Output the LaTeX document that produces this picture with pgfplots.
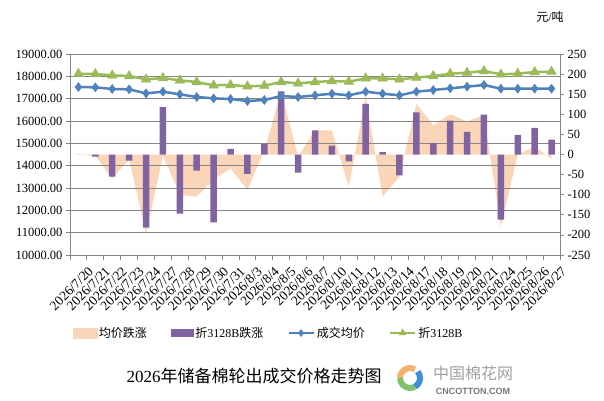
\documentclass[border=0pt]{standalone}
\usepackage{pgfplots}
\pgfplotsset{compat=1.18}
\usepackage{pgfplotstable}
\usepackage{fontspec}
\setmainfont{Liberation Serif}
\newfontfamily\cjk{Noto Sans CJK SC}
\newfontfamily\lsans{Liberation Sans}
\definecolor{cblue}{HTML}{4F81BD}
\definecolor{cgreen}{HTML}{9BBB59}
\definecolor{cpurple}{HTML}{8064A2}
\definecolor{corange}{HTML}{FBD5B8}
\definecolor{cgrid}{HTML}{868686}

\pgfplotstableread{
x blue green bar area
0 17520 18119 0 0
1 17507 18104 -5 -4
2 17433 18045 -55 -60
3 17418 18015 -15 -12
4 17239 17866 -182 -196
5 17313 17925 118 -3
6 17194 17821 -147 -100
7 17075 17746 -40 -105
8 17015 17597 -169 -62
9 16985 17612 14 -35
10 16896 17552 -48 -88
11 16940 17582 27 10
12 17119 17746 157 156
13 17075 17687 -45 -5
14 17149 17746 60 60
15 17224 17791 22 60
16 17149 17761 -17 -80
17 17313 17910 126 144
18 17224 17910 6 -105
19 17149 17866 -52 -55
20 17313 17940 105 126
21 17388 18015 28 73
22 17463 18119 84 100
23 17537 18164 56 82
24 17612 18239 99 98
25 17448 18090 -162 -180
26 17448 18119 49 0
27 17448 18194 66 20
28 17448 18209 37 -11
}\data

\pgfplotsset{
  base/.style={scale only axis, width=490pt, height=201pt,
    at={(70pt,145pt)}, anchor=south west, xmin=-0.5, xmax=28.5,
    /pgf/number format/assume math mode=true},
}

\begin{document}
\begin{tikzpicture}
\path[use as bounding box] (0pt,0pt) rectangle (604pt,400pt);

% area (right scale)
\begin{axis}[base, ymin=-250, ymax=250, hide axis]
\addplot[fill=corange, draw=none] table[x=x,y=area]{\data} \closedcycle;
\end{axis}

% left axis, grid, x labels
\begin{axis}[base, ymin=10000, ymax=19000,
  scaled y ticks=false,
  ytick={10000,11000,...,19000},
  ymajorgrids, grid style={cgrid, line width=0.8pt},
  axis x line*=bottom, axis y line*=left,
  axis line style={cgrid, line width=0.8pt, -},
  tick align=outside, major tick length=4pt, minor tick length=5pt,
  tick style={cgrid, line width=0.8pt},
  yticklabel style={font=\fontsize{12.5}{12.5}\selectfont, /pgf/number format/fixed, /pgf/number format/fixed zerofill, /pgf/number format/precision=2, /pgf/number format/1000 sep={}},
  xtick={0,...,28},
  major x tick style={draw=none},
  minor xtick={-0.5,0.5,...,28.5},
  xticklabels={2026/7/20,2026/7/21,2026/7/22,2026/7/23,2026/7/24,2026/7/27,2026/7/28,2026/7/29,2026/7/30,2026/7/31,2026/8/3,2026/8/4,2026/8/5,2026/8/6,2026/8/7,2026/8/10,2026/8/11,2026/8/12,2026/8/13,2026/8/14,2026/8/17,2026/8/18,2026/8/19,2026/8/20,2026/8/21,2026/8/24,2026/8/25,2026/8/26,2026/8/27},
  xticklabel style={font=\fontsize{13.5}{13.5}\selectfont, rotate=45, anchor=east, xshift=5pt, yshift=-16pt},
]
\addplot[draw=none] coordinates {(0,15000)};
\end{axis}

% bars, right axis
\begin{axis}[base, ymin=-250, ymax=250,
  ytick={-250,-200,...,250},
  axis y line*=right, axis x line=none,
  axis line style={cgrid, line width=0.8pt, -},
  tick align=outside, major tick length=4pt,
  tick style={cgrid, line width=0.8pt},
  yticklabel style={font=\fontsize{12.5}{12.5}\selectfont},
]
\addplot[ybar, bar width=6.5pt, fill=cpurple, draw=none] table[x=x,y=bar]{\data};
\end{axis}

% lines
\begin{axis}[base, ymin=10000, ymax=19000, hide axis,
  legend columns=4,
  legend style={at={(0.405,-0.388)}, anchor=center, draw=none, fill=none,
    font=\fontsize{12}{12}\selectfont,
    /tikz/every even column/.append style={column sep=22pt}},
]
\addlegendimage{legend image code/.code={\fill[corange] (0pt,-5pt) rectangle (24pt,5pt);}}
\addlegendimage{legend image code/.code={\fill[cpurple] (0pt,-3.5pt) rectangle (22pt,3.5pt);}}
\addplot[cblue, line width=2.5pt, mark=diamond*, mark size=4.5pt, mark options={fill=cblue, line width=0.5pt},
  legend image code/.code={\draw[mark repeat=2,mark phase=2,mark size=3.5pt] plot coordinates {(0pt,0pt) (12.5pt,0pt) (25pt,0pt)};}]
  table[x=x,y=blue]{\data};
\addplot[cgreen, line width=2.5pt, mark=triangle*, mark size=5.5pt, mark options={fill=cgreen, line width=0.5pt},
  legend image code/.code={\draw[mark repeat=2,mark phase=2,mark size=4pt] plot coordinates {(0pt,0pt) (12.5pt,0pt) (25pt,0pt)};}]
  table[x=x,y=green]{\data};
\legend{{\cjk 均价跌涨}, {\cjk 折}3128B{\cjk 跌涨}, {\cjk 成交均价}, {\cjk 折}3128B}
\end{axis}

% texts
\node[font=\fontsize{12}{12}\selectfont] at (550pt,383pt) {{\cjk 元}/{\cjk 吨}};
\node[font=\fontsize{17}{17}\selectfont] at (254pt,24pt) {2026{\cjk 年储备棉轮出成交价格走势图}};
% logo
\draw[line width=6pt, color={rgb,255:red,245;green,177;blue,109}] (410pt,22pt) ++(60:10pt) arc (60:180:10pt);
\draw[line width=6pt, color={rgb,255:red,125;green,195;blue,107}] (410pt,22pt) ++(180:10pt) arc (180:300:10pt);
\draw[line width=6pt, color={rgb,255:red,62;green,142;blue,222}] (410pt,22pt) ++(300:10pt) arc (300:400:10pt);
\node[font=\fontsize{16}{16}\selectfont\cjk, color={rgb,255:red,160;green,160;blue,160}] at (473pt,27pt) {中国棉花网};
\node[font=\fontsize{9}{9}\selectfont\lsans\bfseries, color={rgb,255:red,120;green,120;blue,120}] at (473pt,9pt) {CNCOTTON.COM};
\end{tikzpicture}
\end{document}
